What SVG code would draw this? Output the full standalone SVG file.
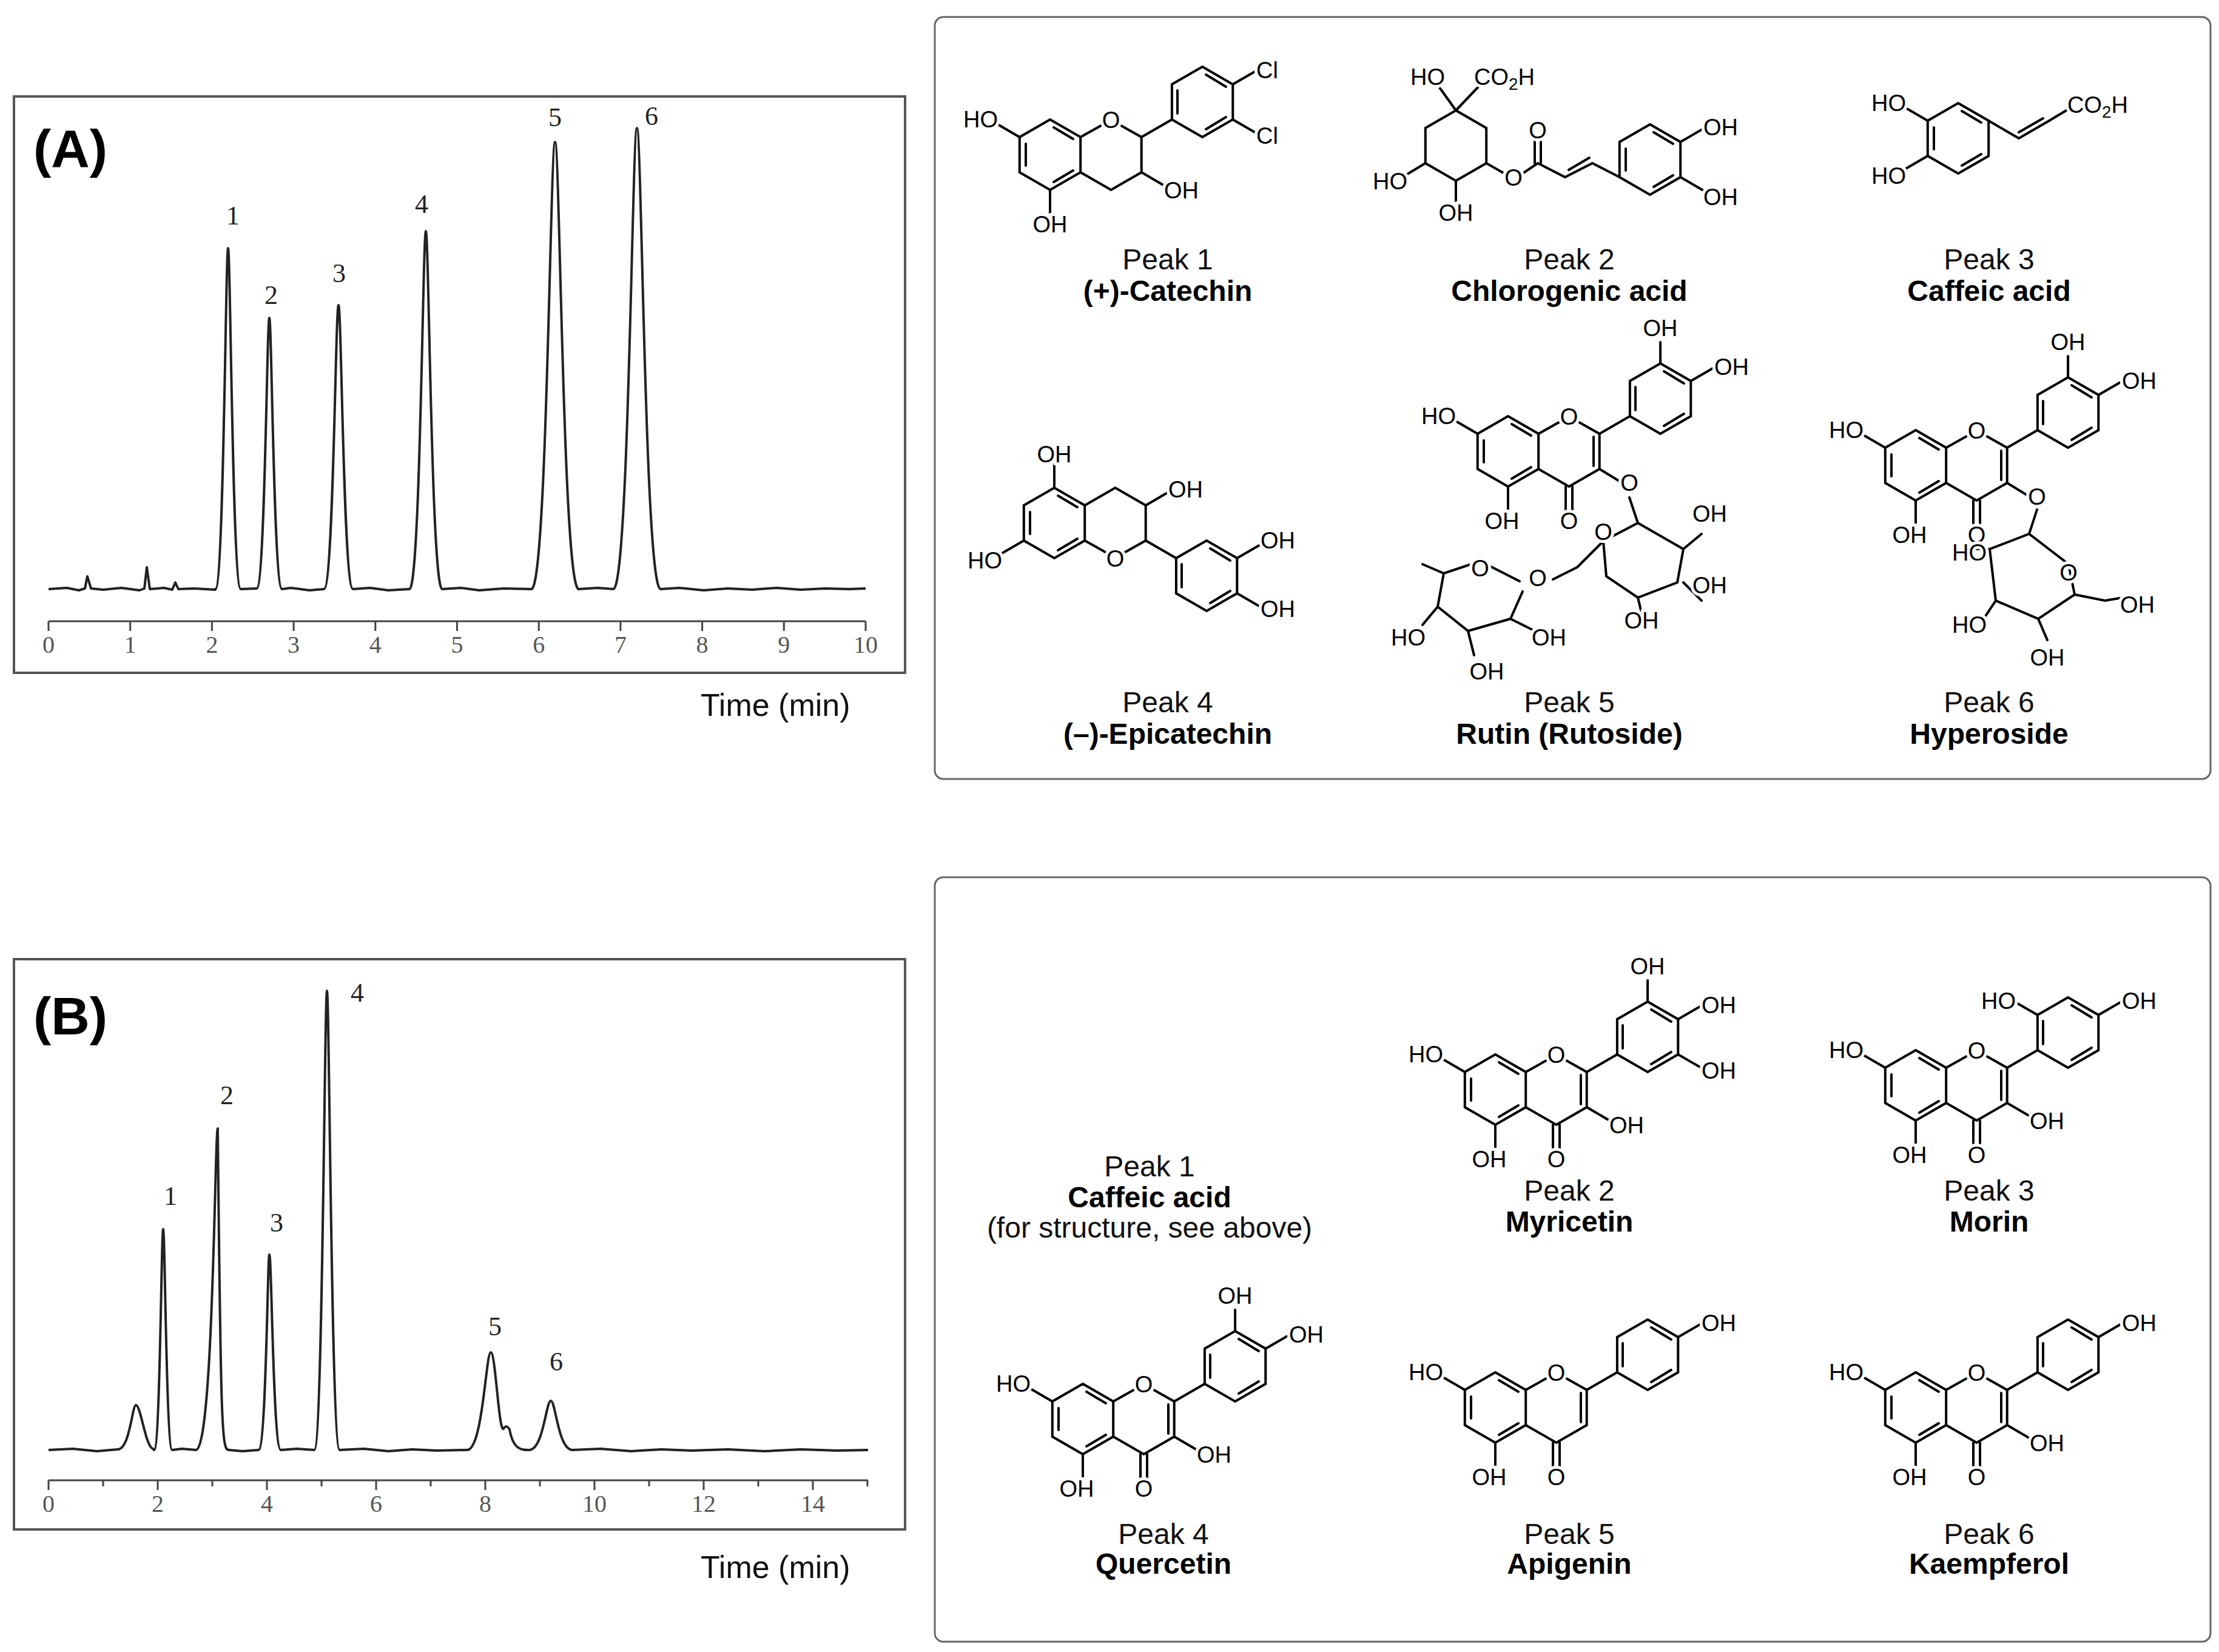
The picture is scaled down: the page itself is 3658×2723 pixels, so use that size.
<svg xmlns="http://www.w3.org/2000/svg" xmlns:xlink="http://www.w3.org/1999/xlink" width="3658" height="2723" viewBox="0 0 3658 2723">
<style>
.frame{fill:#fff;stroke:#555;stroke-width:4}
.box{fill:#fff;stroke:#666;stroke-width:3}
.trace{fill:none;stroke:#222;stroke-width:4;stroke-linejoin:round}
.axis{fill:none;stroke:#444;stroke-width:3}
.tick{font-family:"Liberation Serif",serif;font-size:40px;fill:#555;text-anchor:middle}
.pk{font-family:"Liberation Serif",serif;font-size:44px;fill:#222;text-anchor:middle}
.big{font-family:"Liberation Sans",Arial,sans-serif;font-size:88px;font-weight:bold;fill:#000}
.tm{font-family:"Liberation Sans",Arial,sans-serif;font-size:52px;fill:#111}
.lab{font-family:"Liberation Sans",Arial,sans-serif;font-size:48px;fill:#111;text-anchor:middle}
.nm{font-family:"Liberation Sans",Arial,sans-serif;font-size:48px;font-weight:bold;fill:#000;text-anchor:middle}
.b{fill:none;stroke:#000;stroke-width:4;stroke-linecap:round}
.at{font-family:"Liberation Sans",Arial,sans-serif;font-size:38px;fill:#000;paint-order:stroke;stroke:#fff;stroke-width:10px}
.c{text-anchor:middle}.e{text-anchor:end}
</style>
<defs>
<g id="flav">
<polygon class="b" points="0,-58 50.2,-29 50.2,29 0,58 -50.2,29 -50.2,-29"/>
<path class="b" d="M-40,-18 L-40,18 M6,-45 L38,-26 M6,45 L38,26"/>
<path class="b" d="M50.2,-29 L84,-48 M117,-48 L150.7,-29 L150.7,29 L100.5,58 L50.2,29"/>
<path class="b" d="M95,58 L95,98 M106,58 L106,98"/>
<path class="b" d="M150.7,-29 L200.9,-58"/>
<polygon class="b" points="251.1,-145 301.3,-116 301.3,-58 251.1,-29 200.9,-58 200.9,-116"/>
<path class="b" d="M210,-106 L210,-68 M257,-132 L290,-112 M257,-42 L290,-62"/>
<path class="b" d="M-50.2,-29 L-88,-51 M0,58 L0,96"/>
<text class="at c" x="100.5" y="-44">O</text>
<text class="at c" x="100.5" y="128">O</text>
<text class="at e" x="-86" y="-45">HO</text>
<text class="at c" x="-10" y="128">OH</text>
</g>
<g id="oh3"><path class="b" d="M141,-24 L141,24 M150.7,29 L190,52"/><text class="at" x="188" y="72">OH</text></g>
<g id="oh4p"><path class="b" d="M301.3,-116 L341,-139"/><text class="at" x="340" y="-126">OH</text></g>
<g id="oh3p"><path class="b" d="M251.1,-145 L251.1,-180"/><text class="at c" x="251" y="-190">OH</text></g>
<g id="oh5p"><path class="b" d="M301.3,-58 L341,-35"/><text class="at" x="340" y="-18">OH</text></g>
<g id="oh2p"><path class="b" d="M200.9,-116 L161,-139"/><text class="at e" x="165" y="-126">HO</text></g>
</defs>

<g id="chromA">
<rect class="frame" x="23" y="159" width="1469" height="950"/>
<text class="big" x="55" y="275">(A)</text>
<path class="trace" d="M80,971 L110,969 L130,973 L140,970 L144,950 L150,970 L170,972 L200,969 L230,973 L238,970 L242,935 L247,971 L270,969 L284,972 L289,960 L294,971 L320,970 L355,972 L355,971 C369,971 372,409 376,409 C380,409 383,971 397,971 L423,970 C437,970 440,524 444,524 C448,524 451,971 465,971 L480,969 L510,973 L534,971 C550,971 553,503 558,503 C563,503 566,971 582,971 L610,969 L640,973 L675,971 C693,971 697,381 702,381 C707,381 711,971 729,971 L760,969 L790,973 L830,970 L876,971 C902,971 907,234 915,234 C923,234 928,971 954,971 L985,969 L1011,971 C1037,971 1042,211 1050,211 C1058,211 1063,971 1089,971 L1120,969 L1160,973 L1200,970 L1240,972 L1280,969 L1320,972 L1360,970 L1400,971 L1427,970"/>
<text class="pk" x="384" y="370">1</text><text class="pk" x="447" y="501">2</text><text class="pk" x="559" y="465">3</text>
<text class="pk" x="695" y="351">4</text><text class="pk" x="915" y="208">5</text><text class="pk" x="1074" y="206">6</text>
<path class="axis" d="M80,1024 L1427,1024 M80,1024 v16 M214.7,1024 v16 M349.4,1024 v16 M484.1,1024 v16 M618.8,1024 v16 M753.5,1024 v16 M888.2,1024 v16 M1022.9,1024 v16 M1157.6,1024 v16 M1292.3,1024 v16 M1427,1024 v16"/>
<text class="tick" x="80" y="1076">0</text><text class="tick" x="214.7" y="1076">1</text><text class="tick" x="349.4" y="1076">2</text><text class="tick" x="484.1" y="1076">3</text><text class="tick" x="618.8" y="1076">4</text><text class="tick" x="753.5" y="1076">5</text><text class="tick" x="888.2" y="1076">6</text><text class="tick" x="1022.9" y="1076">7</text><text class="tick" x="1157.6" y="1076">8</text><text class="tick" x="1292.3" y="1076">9</text><text class="tick" x="1427" y="1076">10</text>
<text class="tm" x="1155" y="1180">Time (min)</text>
</g>

<g id="chromB">
<rect class="frame" x="23" y="1581" width="1469" height="940"/>
<text class="big" x="55" y="1705">(B)</text>
<path class="trace" d="M80,2390 L120,2388 L160,2392 L194,2389 C214,2389 218,2316 224,2316 C232,2316 240,2385 252,2388 L254,2390 C264,2390 266,2026 269,2026 C272,2026 274,2390 284,2390 L300,2388 L323,2390 C352,2390 354,1860 359,1860 C364,2360 366,2390 377,2390 L400,2392 L426,2390 C439,2390 441,2068 444,2068 C448,2068 450,2390 463,2390 L490,2388 L518,2390 C532,2390 535,1633 539,1633 C543,1633 546,2390 560,2390 L600,2388 L640,2392 L680,2389 L720,2391 L770,2390 C796,2390 801,2229 809,2229 C817,2229 822,2360 830,2355 C834,2350 836,2350 840,2356 C846,2390 860,2390 872,2390 C896,2390 900,2309 908,2309 C916,2309 920,2390 944,2390 L990,2388 L1040,2392 L1090,2389 L1140,2391 L1200,2389 L1260,2392 L1320,2389 L1380,2391 L1431,2390"/>
<text class="pk" x="281" y="1986">1</text><text class="pk" x="374" y="1820">2</text><text class="pk" x="456" y="2030">3</text>
<text class="pk" x="589" y="1651">4</text><text class="pk" x="816" y="2201">5</text><text class="pk" x="917" y="2259">6</text>
<path class="axis" d="M80,2440 L1431,2440 M80,2440 v16 M170,2440 v10 M260,2440 v16 M350,2440 v10 M440,2440 v16 M530,2440 v10 M620,2440 v16 M710,2440 v10 M800,2440 v16 M890,2440 v10 M980,2440 v16 M1070,2440 v10 M1160,2440 v16 M1250,2440 v10 M1340,2440 v16 M1430,2440 v10"/>
<text class="tick" x="80" y="2492">0</text><text class="tick" x="260" y="2492">2</text><text class="tick" x="440" y="2492">4</text><text class="tick" x="620" y="2492">6</text><text class="tick" x="800" y="2492">8</text><text class="tick" x="980" y="2492">10</text><text class="tick" x="1160" y="2492">12</text><text class="tick" x="1340" y="2492">14</text>
<text class="tm" x="1155" y="2601">Time (min)</text>
</g>

<g id="panelA">
<rect class="box" x="1541" y="28" width="2103" height="1256" rx="14"/>
<!-- catechin -->
<g transform="translate(1731,255)">
<polygon class="b" points="0,-58 50.2,-29 50.2,29 0,58 -50.2,29 -50.2,-29"/>
<path class="b" d="M-40,-18 L-40,18 M6,-45 L38,-26 M6,45 L38,26"/>
<path class="b" d="M50.2,-29 L84,-48 M117,-48 L150.7,-29 L150.7,29 L100.5,58 L50.2,29 M150.7,-29 L200.9,-58 M150.7,29 L190,52 M-50.2,-29 L-88,-51 M0,58 L0,96"/>
<polygon class="b" points="251.1,-145 301.3,-116 301.3,-58 251.1,-29 200.9,-58 200.9,-116"/>
<path class="b" d="M210,-106 L210,-68 M257,-132 L290,-112 M257,-42 L290,-62 M301.3,-116 L341,-139 M301.3,-58 L341,-35"/>
<text class="at c" x="100.5" y="-44">O</text><text class="at" x="188" y="72">OH</text>
<text class="at e" x="-86" y="-45">HO</text><text class="at c" x="0" y="128">OH</text>
<text class="at" x="340" y="-126">Cl</text><text class="at" x="340" y="-18">Cl</text>
</g>
<text class="lab" x="1925" y="444">Peak 1</text><text class="nm" x="1925" y="496">(+)-Catechin</text>
<!-- chlorogenic acid -->
<g transform="translate(2400,240)">
<polygon class="b" points="0,-58 50.2,-29 50.2,29 0,58 -50.2,29 -50.2,-29"/>
<path class="b" d="M0,-58 L-30,-100 M0,-58 L40,-100 M-50.2,29 L-85,50 M0,58 L0,92 M50.2,29 L80,46 M110,46 L135,29 L180,52 L225,29 L270,52 M130,29 L130,-8 M140,29 L140,-8 M186,40 L220,20"/>
<text class="at e" x="-18" y="-100">HO</text><text class="at" x="30" y="-100">CO<tspan font-size="28" dy="8">2</tspan><tspan dy="-8">H</tspan></text>
<text class="at e" x="-80" y="72">HO</text><text class="at c" x="0" y="124">OH</text><text class="at c" x="95" y="66">O</text><text class="at c" x="135" y="-12">O</text>
<g transform="translate(320,23)">
<polygon class="b" points="0,-58 50.2,-29 50.2,29 0,58 -50.2,29 -50.2,-29"/>
<path class="b" d="M-40,-18 L-40,18 M6,-45 L38,-26 M6,45 L38,26 M50.2,-29 L88,-51 M50.2,29 L88,51"/>
<text class="at" x="88" y="-40">OH</text><text class="at" x="88" y="75">OH</text>
</g>
</g>
<text class="lab" x="2587" y="444">Peak 2</text><text class="nm" x="2587" y="496">Chlorogenic acid</text>
<!-- caffeic acid -->
<g transform="translate(3228,228)">
<polygon class="b" points="0,-58 50.2,-29 50.2,29 0,58 -50.2,29 -50.2,-29"/>
<path class="b" d="M-40,-18 L-40,18 M6,-45 L38,-26 M6,45 L38,26 M-50.2,-29 L-88,-51 M-50.2,29 L-88,51 M50.2,-29 L100,0 L150,-29 M100,-10 L140,-33 M150,-29 L185,-50"/>
<text class="at e" x="-86" y="-45">HO</text><text class="at e" x="-86" y="75">HO</text>
<text class="at" x="180" y="-42">CO<tspan font-size="28" dy="8">2</tspan><tspan dy="-8">H</tspan></text>
</g>
<text class="lab" x="3279" y="444">Peak 3</text><text class="nm" x="3279" y="496">Caffeic acid</text>
<!-- epicatechin (mirrored) -->
<g transform="translate(1738,862)">
<polygon class="b" points="0,58 50.2,29 50.2,-29 0,-58 -50.2,-29 -50.2,29"/>
<path class="b" d="M-40,18 L-40,-18 M6,45 L38,26 M6,-45 L38,-26"/>
<path class="b" d="M50.2,29 L84,48 M117,48 L150.7,29 L150.7,-29 L100.5,-58 L50.2,-29 M150.7,29 L200.9,58 M150.7,-29 L190,-52 M-50.2,29 L-88,51 M0,-58 L0,-96"/>
<polygon class="b" points="251.1,145 301.3,116 301.3,58 251.1,29 200.9,58 200.9,116"/>
<path class="b" d="M210,106 L210,68 M257,132 L290,112 M257,42 L290,62 M301.3,116 L341,139 M301.3,58 L341,35"/>
<text class="at c" x="100.5" y="72">O</text><text class="at" x="188" y="-42">OH</text>
<text class="at e" x="-86" y="75">HO</text><text class="at c" x="0" y="-100">OH</text>
<text class="at" x="340" y="42">OH</text><text class="at" x="340" y="155">OH</text>
</g>
<text class="lab" x="1925" y="1174">Peak 4</text><text class="nm" x="1925" y="1226">(–)-Epicatechin</text>
<!-- rutin -->
<g transform="translate(2486,744)">
<use xlink:href="#flav"/><use xlink:href="#oh3p"/><use xlink:href="#oh4p"/>
<path class="b" d="M141,-24 L141,24 M150.7,29 L185,50"/><text class="at c" x="200" y="65">O</text>
</g>
<path class="b" d="M2686,820 L2700,862 M2700,862 L2643,892 L2648,950 L2700,985 L2765,960 L2775,905 L2700,862 M2643,892 L2600,935 M2775,905 L2805,880 M2775,960 L2805,990 M2700,985 L2706,1010 M2600,935 L2560,955"/>
<path class="b" d="M2505,958 L2440,925 L2380,945 L2370,1000 L2420,1040 L2490,1020 L2510,975 M2380,945 L2345,930 M2370,1000 L2345,1030 M2420,1040 L2430,1080 M2490,1020 L2530,1040"/>
<text class="at c" x="2643" y="890">O</text><text class="at" x="2790" y="860">OH</text><text class="at" x="2790" y="978">OH</text><text class="at c" x="2706" y="1036">OH</text>
<text class="at c" x="2440" y="950">O</text><text class="at c" x="2535" y="966">O</text><text class="at e" x="2350" y="1064">HO</text><text class="at" x="2525" y="1064">OH</text><text class="at c" x="2451" y="1120">OH</text>
<text class="lab" x="2587" y="1174">Peak 5</text><text class="nm" x="2587" y="1226">Rutin (Rutoside)</text>
<!-- hyperoside -->
<g transform="translate(3158,767)">
<use xlink:href="#flav"/><use xlink:href="#oh3p"/><use xlink:href="#oh4p"/>
<path class="b" d="M141,-24 L141,24 M150.7,29 L185,50"/><text class="at c" x="200" y="65">O</text>
</g>
<path class="b" d="M3358,840 L3345,880 M3345,880 L3280,905 L3290,990 L3360,1020 L3420,980 L3410,930 L3345,880 M3280,905 L3250,905 M3290,990 L3270,1020 M3360,1020 L3375,1055 M3420,980 L3470,990 L3500,985"/>
<text class="at e" x="3275" y="924">HO</text><text class="at c" x="3410" y="957">O</text><text class="at e" x="3275" y="1043">HO</text><text class="at c" x="3375" y="1097">OH</text><text class="at" x="3495" y="1010">OH</text>
<text class="lab" x="3279" y="1174">Peak 6</text><text class="nm" x="3279" y="1226">Hyperoside</text>
</g>

<g id="panelB">
<rect class="box" x="1541" y="1446" width="2103" height="1260" rx="14"/>
<text class="lab" x="1895" y="1939">Peak 1</text><text class="nm" x="1895" y="1990">Caffeic acid</text><text class="lab" x="1895" y="2040">(for structure, see above)</text>
<g transform="translate(2465,1796)"><use xlink:href="#flav"/><use xlink:href="#oh3"/><use xlink:href="#oh3p"/><use xlink:href="#oh4p"/><use xlink:href="#oh5p"/></g>
<text class="lab" x="2587" y="1979">Peak 2</text><text class="nm" x="2587" y="2030">Myricetin</text>
<g transform="translate(3158,1789)"><use xlink:href="#flav"/><use xlink:href="#oh3"/><use xlink:href="#oh2p"/><use xlink:href="#oh4p"/></g>
<text class="lab" x="3279" y="1979">Peak 3</text><text class="nm" x="3279" y="2030">Morin</text>
<g transform="translate(1785,2339)"><use xlink:href="#flav"/><use xlink:href="#oh3"/><use xlink:href="#oh3p"/><use xlink:href="#oh4p"/></g>
<text class="lab" x="1918" y="2545">Peak 4</text><text class="nm" x="1918" y="2594">Quercetin</text>
<g transform="translate(2465,2320)"><use xlink:href="#flav"/><use xlink:href="#oh4p"/><path class="b" d="M141,-24 L141,24"/></g>
<text class="lab" x="2587" y="2545">Peak 5</text><text class="nm" x="2587" y="2594">Apigenin</text>
<g transform="translate(3158,2320)"><use xlink:href="#flav"/><use xlink:href="#oh3"/><use xlink:href="#oh4p"/></g>
<text class="lab" x="3279" y="2545">Peak 6</text><text class="nm" x="3279" y="2594">Kaempferol</text>
</g>
</svg>
